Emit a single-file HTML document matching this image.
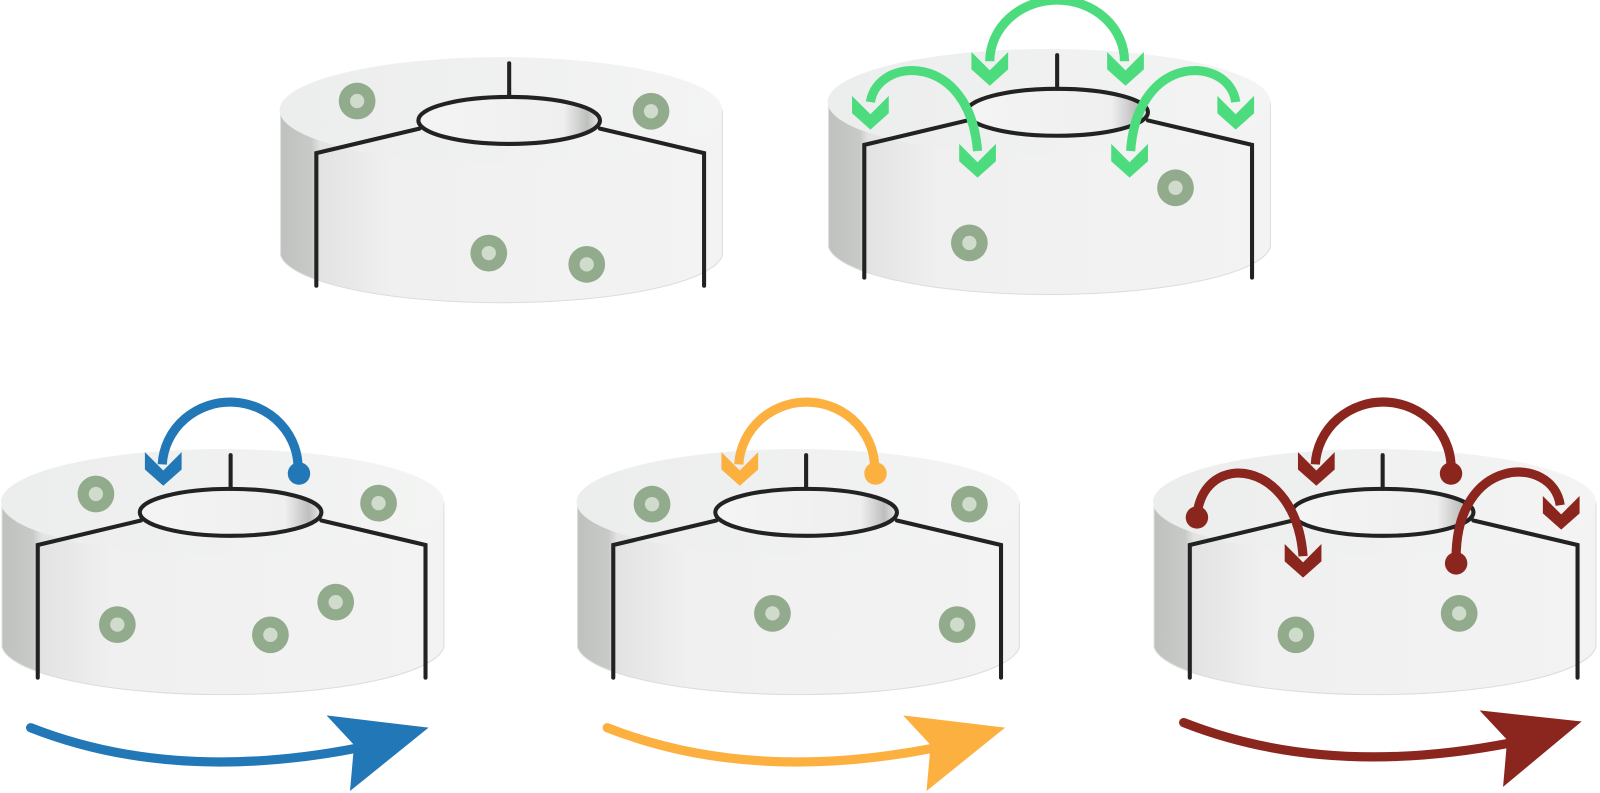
<!DOCTYPE html>
<html><head><meta charset="utf-8"><style>html,body{margin:0;padding:0;background:#fff}svg{display:block}</style></head>
<body>
<svg width="1600" height="793" viewBox="0 0 1568 777" preserveAspectRatio="none" xmlns="http://www.w3.org/2000/svg">
<defs>
<linearGradient id="side" x1="0" x2="1" y1="0" y2="0">
<stop offset="0" stop-color="#bfc1bf"/><stop offset="0.07" stop-color="#c8cac8"/><stop offset="0.09" stop-color="#e2e3e2"/><stop offset="0.25" stop-color="#eff0ef"/><stop offset="1" stop-color="#f3f3f3"/>
</linearGradient>
<linearGradient id="topf" x1="0" x2="1"><stop offset="0" stop-color="#eceded"/><stop offset="1" stop-color="#f3f4f3"/></linearGradient>
<linearGradient id="hole" x1="0" x2="1"><stop offset="0" stop-color="#f4f4f4"/><stop offset="0.8" stop-color="#efefef"/><stop offset="0.93" stop-color="#bdbfbd"/><stop offset="1" stop-color="#e8e8e8"/></linearGradient>
<g id="cyl">
<path d="M-224,-10 L-224,132 A217,50 0 0 0 209,132 L209,-10 Z" fill="url(#side)" stroke="#dcdcdc" stroke-width="1"/>
<ellipse cx="-8" cy="-10" rx="217" ry="52" fill="url(#topf)"/>
<ellipse cx="0" cy="0" rx="89" ry="23" fill="url(#hole)" stroke="#222" stroke-width="4"/>
<g stroke="#222" stroke-width="4" fill="none" stroke-linecap="round" stroke-linejoin="miter">
<path d="M0,-56 V-23"/>
<path d="M-88,8 L-189,32 V162"/>
<path d="M89,8 L191,32 V162"/>
</g>
</g>
<g id="dot"><circle r="18" fill="#93ab8d"/><circle r="7" fill="#cfdccc"/></g>
<polygon id="hd" points="-18,-33 0,-15 18,-33 18,-16 0,0 -18,-16"/>
</defs>

<use href="#cyl" x="499" y="118"/>
<use href="#dot" x="350" y="99"/><use href="#dot" x="638" y="109"/><use href="#dot" x="479" y="248"/><use href="#dot" x="575" y="259"/>

<use href="#cyl" x="1036" y="110"/>
<use href="#dot" x="1152" y="184"/><use href="#dot" x="950" y="238"/>
<g stroke="#4cdc7e" stroke-width="9" fill="none">
<path d="M970,60 A66,60 0 0 1 1102,60"/>
<path d="M853,100 C860,55 950,50 958,148"/>
<path d="M1108,148 C1115,50 1205,55 1211,100"/>
</g>
<g fill="#4cdc7e">
<use href="#hd" x="970" y="84"/><use href="#hd" x="1103" y="84"/>
<use href="#hd" x="853" y="127"/><use href="#hd" x="958" y="174"/>
<use href="#hd" x="1107" y="174"/><use href="#hd" x="1211" y="127"/>
</g>

<use href="#cyl" x="226" y="502"/>
<use href="#dot" x="94" y="484"/><use href="#dot" x="371" y="493"/><use href="#dot" x="115" y="612"/><use href="#dot" x="265" y="622"/><use href="#dot" x="329" y="590"/>
<path d="M292,462 A66,64 0 0 0 159,455" stroke="#2277b6" stroke-width="9" fill="none"/>
<circle cx="293" cy="464" r="11" fill="#2277b6"/>
<use href="#hd" x="160" y="476" fill="#2277b6"/>
<path d="M30,713 Q170,768 350,733" stroke="#2277b6" stroke-width="9" fill="none" stroke-linecap="round"/>
<polygon points="320,701 420,713 343,775 347,730" fill="#2277b6"/>

<use href="#cyl" x="790" y="502"/>
<use href="#dot" x="639" y="494"/><use href="#dot" x="950" y="494"/><use href="#dot" x="757" y="601"/><use href="#dot" x="938" y="612"/>
<path d="M857,462 A66,64 0 0 0 724,455" stroke="#fcb040" stroke-width="9" fill="none"/>
<circle cx="858" cy="464" r="11" fill="#fcb040"/>
<use href="#hd" x="725" y="476" fill="#fcb040"/>
<path d="M595,713 Q735,768 915,733" stroke="#fcb040" stroke-width="9" fill="none" stroke-linecap="round"/>
<polygon points="885,701 985,713 908,775 912,730" fill="#fcb040"/>

<use href="#cyl" x="1355" y="502"/>
<use href="#dot" x="1270" y="622"/><use href="#dot" x="1430" y="601"/>
<g stroke="#8b261e" stroke-width="9" fill="none">
<path d="M1422,462 A66,64 0 0 0 1289,455"/>
<path d="M1173,505 C1180,440 1270,450 1277,545"/>
<path d="M1427,550 C1425,445 1522,445 1529,495"/>
</g>
<g fill="#8b261e">
<circle cx="1422" cy="464" r="11"/><circle cx="1173" cy="507" r="11"/><circle cx="1427" cy="552" r="11"/>
<use href="#hd" x="1290" y="476"/><use href="#hd" x="1277" y="566"/><use href="#hd" x="1530" y="519"/>
</g>
<path d="M1160,708 Q1300,763 1480,728" stroke="#8b261e" stroke-width="9" fill="none" stroke-linecap="round"/>
<polygon points="1450,696 1550,707 1473,771 1477,725" fill="#8b261e"/>
</svg>
</body></html>
